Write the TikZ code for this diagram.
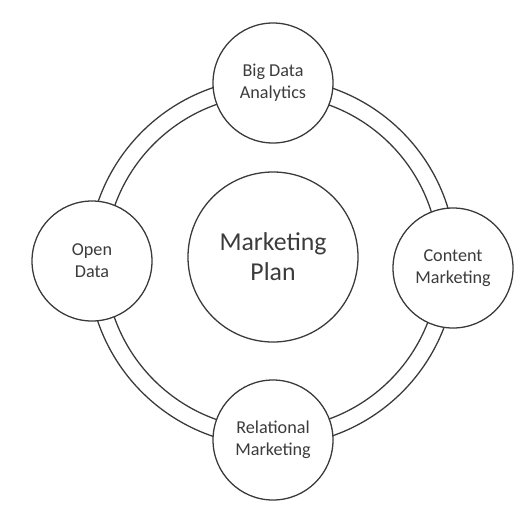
\documentclass[tikz,border=0pt]{standalone}
\usepackage{fontspec}
\setmainfont{Carlito}
\definecolor{linegray}{HTML}{3A3A3A}
\definecolor{textgray}{HTML}{3C3C3C}

\begin{document}
\begin{tikzpicture}[x=0.3mm,y=-0.3mm,
    bubble/.style={circle,draw=linegray,fill=white,line width=1.1pt,
      inner sep=0pt,minimum size=36mm,align=center,text=textgray,
      font=\fontsize{15.5}{18.5}\selectfont},
    hub/.style={bubble,minimum size=51mm,font=\fontsize{22}{25.5}\selectfont}]

    \useasboundingbox (0,0) rectangle (523,511);

    % ring around the plan
    \coordinate (ring) at (272,262);
    \draw[linegray,line width=1.1pt] (ring) circle[radius=184];
    \draw[linegray,line width=1.1pt] (ring) circle[radius=167];

    \node[hub] (plan) at (273,257) {Marketing\\Plan};

    \node[bubble] (bigdata) at (273,83) {Big Data\\Analytics};
    \node[bubble] (opendata) at (92,261) {Open\\Data};
    \node[bubble] (content) at (453,268) {Content\\Marketing};
    \node[bubble] (relational) at (273,440) {Relational\\Marketing};

\end{tikzpicture}
\end{document}
